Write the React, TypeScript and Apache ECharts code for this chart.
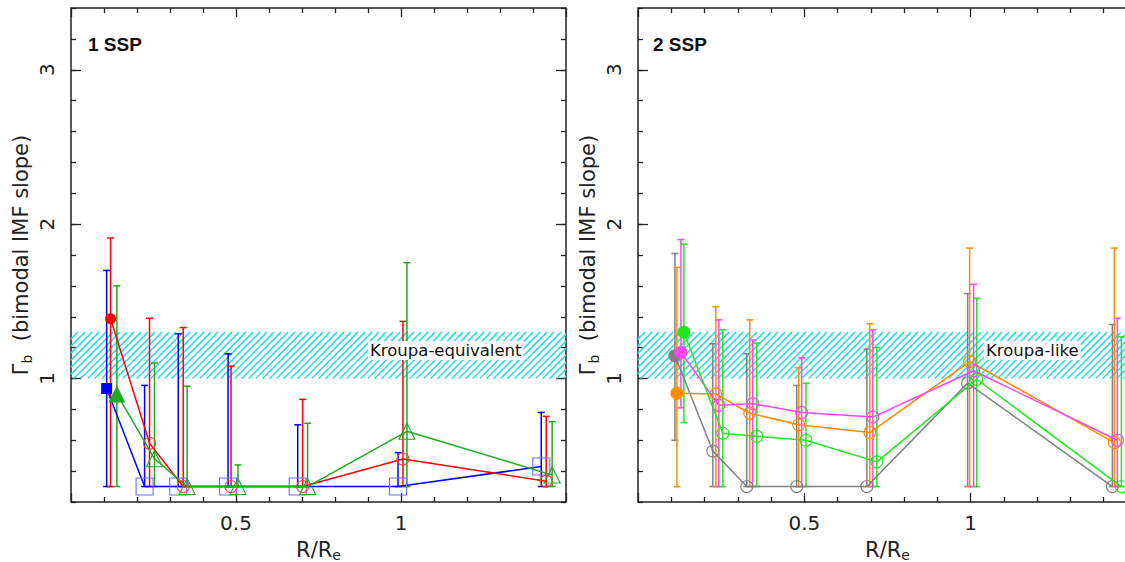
import React, { useEffect, useRef } from 'react';
import * as echarts from 'echarts';

// ---------- data ----------
const xAxisLabels = ['0.5', '1'];
const yAxisLabels = ['1', '2', '3'];
const kroupaBand = [1.0, 1.3];
const panelTitles = ['1 SSP', '2 SSP'];
const bandLabels = ['Kroupa-equivalent', 'Kroupa-like'];

// Left panel: 1 SSP
const blueX = [0.108, 0.223, 0.325, 0.476, 0.687, 0.991, 1.425];
const blueY = [0.935, 0.3, 0.3, 0.3, 0.3, 0.3, 0.43];
const blueHi = [1.70, 0.955, 1.29, 1.16, 0.70, 0.52, 0.78];
const blueLo = [0.3, 0.3, 0.3, 0.3, 0.3, 0.3, 0.3];

const redX = [0.120, 0.238, 0.340, 0.485, 0.702, 1.006, 1.440];
const redY = [1.387, 0.58, 0.3, 0.3, 0.3, 0.478, 0.335];
const redHi = [1.91, 1.39, 1.33, 1.08, 0.865, 1.37, 0.755];
const redLo = [0.3, 0.3, 0.3, 0.3, 0.3, 0.3, 0.3];

const greenX = [0.139, 0.253, 0.352, 0.506, 0.717, 1.018, 1.458];
const greenY = [0.9, 0.48, 0.3, 0.3, 0.3, 0.658, 0.375];
const greenHi = [1.60, 1.10, 0.95, 0.44, 0.71, 1.75, 0.72];
const greenLo = [0.3, 0.3, 0.3, 0.3, 0.3, 0.3, 0.3];

// Right panel: 2 SSP
const grayX = [0.111, 0.225, 0.327, 0.477, 0.688, 0.991, 1.426];
const grayY = [1.148, 0.53, 0.3, 0.3, 0.3, 0.97, 0.3];
const grayHi = [1.81, 1.225, 1.16, 0.955, 1.19, 1.55, 1.35];
const grayLo = [0.6, 0.3, 0.3, 0.3, 0.3, 0.3, 0.3];

const orangeX = [0.117, 0.234, 0.336, 0.483, 0.697, 0.997, 1.432];
const orangeY = [0.905, 0.9, 0.775, 0.70, 0.65, 1.11, 0.585];
const orangeHi = [1.72, 1.465, 1.38, 1.07, 1.355, 1.845, 1.845];
const orangeLo = [0.3, 0.3, 0.3, 0.3, 0.3, 0.3, 0.3];

const magentaX = [0.129, 0.243, 0.345, 0.492, 0.706, 1.009, 1.441];
const magentaY = [1.17, 0.826, 0.837, 0.78, 0.75, 1.05, 0.6];
const magentaHi = [1.90, 1.38, 1.25, 1.135, 1.315, 1.61, 1.39];
const magentaLo = [0.81, 0.3, 0.3, 0.3, 0.3, 0.3, 0.3];

const limeX = [0.138, 0.255, 0.357, 0.505, 0.718, 1.018, 1.453];
const limeY = [1.30, 0.645, 0.626, 0.60, 0.46, 0.995, 0.3];
const limeHi = [1.87, 1.315, 1.23, 0.97, 1.20, 1.52, 1.27];
const limeLo = [0.715, 0.3, 0.3, 0.3, 0.3, 0.3, 0.3];

// ---------- styling ----------
const FONT = 'DejaVu Sans';
const AX = '#222';

function lineSeries(
  g: number,
  xs: number[],
  ys: number[],
  color: string,
  openColor: string,
  symbol: string,
  filledSize: number,
  openSize: number,
  z: number
) {
  return {
    type: 'line',
    xAxisIndex: g * 2,
    yAxisIndex: g * 4,
    showAllSymbol: true,
    z,
    lineStyle: { color, width: 1.5 },
    itemStyle: { color },
    data: xs.map((x, i) =>
      i === 0
        ? { value: [x, ys[i]], symbol, symbolSize: filledSize, itemStyle: { color, borderWidth: 0 } }
        : {
            value: [x, ys[i]],
            symbol,
            symbolSize: openSize,
            itemStyle: { color: 'rgba(0,0,0,0)', borderColor: openColor, borderWidth: 1.1 },
          }
    ),
  };
}

function errSeries(g: number, xs: number[], lo: number[], hi: number[], color: string, z: number) {
  return {
    type: 'custom',
    xAxisIndex: g * 2,
    yAxisIndex: g * 4,
    z,
    silent: true,
    encode: { x: 0, y: [1, 2] },
    data: xs.map((x, i) => [x, lo[i], hi[i]]),
    renderItem: (params: any, api: any) => {
      const x = api.value(0);
      const top = api.coord([x, api.value(2)]);
      const bot = api.coord([x, api.value(1)]);
      const w = 3.5;
      const st = { stroke: color, lineWidth: 1.5, fill: null };
      return {
        type: 'group',
        children: [
          { type: 'line', shape: { x1: top[0], y1: top[1], x2: bot[0], y2: bot[1] }, style: st },
          { type: 'line', shape: { x1: top[0] - w, y1: top[1], x2: top[0] + w, y2: top[1] }, style: st },
          { type: 'line', shape: { x1: bot[0] - w, y1: bot[1], x2: bot[0] + w, y2: bot[1] }, style: st },
        ],
      };
    },
  };
}

function bandSeries(g: number) {
  return {
    type: 'custom',
    xAxisIndex: g * 2,
    yAxisIndex: g * 4,
    z: 1,
    silent: true,
    encode: { x: [0, 2], y: [1, 3] },
    data: [[0, kroupaBand[0], 1.5, kroupaBand[1]]],
    renderItem: (params: any, api: any) => {
      const p0 = api.coord([api.value(0), api.value(3)]);
      const p1 = api.coord([api.value(2), api.value(1)]);
      const x0 = p0[0], y0 = p0[1], x1 = p1[0], y1 = p1[1];
      const step = 7;
      const children: any[] = [];
      for (let c = x0 + y0; c <= x1 + y1; c += step) {
        const xs = Math.max(x0, c - y1);
        const xe = Math.min(x1, c - y0);
        if (xe > xs) {
          children.push({
            type: 'line',
            shape: { x1: xs, y1: c - xs, x2: xe, y2: c - xe },
            style: { stroke: '#2fdcf0', lineWidth: 1.6 },
          });
        }
      }
      return { type: 'group', children };
    },
  };
}

const richY = {
  a: { fontSize: 21, fontFamily: FONT, color: AX, lineHeight: 24, verticalAlign: 'top' },
  s: { fontSize: 14, fontFamily: FONT, color: AX, lineHeight: 14, verticalAlign: 'bottom', padding: [13, 0, 0, 0] },
};
const richX = {
  a: { fontSize: 21, fontFamily: FONT, color: AX, lineHeight: 22, verticalAlign: 'top' },
  s: { fontSize: 14, fontFamily: FONT, color: AX, lineHeight: 14, verticalAlign: 'bottom', padding: [10, 0, 0, 0] },
};

function xAxes(g: number) {
  const base = {
    type: 'value',
    gridIndex: g,
    min: 0,
    max: 1.5,
    interval: 0.5,
    axisLine: { show: false },
    splitLine: { show: false },
    axisTick: { show: true, inside: true, length: 9, lineStyle: { color: AX, width: 1.3 } },
    minorTick: { show: true, splitNumber: 5, length: 5, lineStyle: { color: AX, width: 1.3 } },
  };
  return [
    {
      ...base,
      position: 'bottom',
      axisLabel: {
        show: true,
        margin: 11,
        fontSize: 20,
        fontFamily: FONT,
        color: AX,
        formatter: (v: number) => {
          if (Math.abs(v - 0.5) < 1e-6) return xAxisLabels[0];
          if (Math.abs(v - 1) < 1e-6) return xAxisLabels[1];
          return '';
        },
      },
      name: '{a|R/R}{s|e}',
      nameLocation: 'middle',
      nameGap: 29,
      nameTextStyle: { fontFamily: FONT, color: AX, rich: richX },
    },
    { ...base, position: 'top', axisLabel: { show: false } },
  ];
}

function yAxes(g: number) {
  const base = {
    type: 'value',
    gridIndex: g,
    min: 0.2,
    max: 3.4,
    interval: 0.2,
    axisLine: { show: false },
    splitLine: { show: false },
  };
  const minorTick = { show: true, inside: true, length: 5, lineStyle: { color: AX, width: 1.3 } };
  const majorTick = { show: true, inside: true, length: 10, customValues: [1, 2, 3], lineStyle: { color: AX, width: 1.3 } };
  return [
    {
      ...base,
      position: 'left',
      axisTick: minorTick,
      axisLabel: {
        show: true,
        rotate: 90,
        margin: 14,
        fontSize: 20,
        fontFamily: FONT,
        color: AX,
        formatter: (v: number) => {
          for (let k = 0; k < 3; k++) if (Math.abs(v - (k + 1)) < 1e-6) return yAxisLabels[k];
          return '';
        },
      },
      name: '{a|Γ}{s|b}{a|  (bimodal IMF slope)}',
      nameLocation: 'middle',
      nameGap: 37,
      nameRotate: 90,
      nameTextStyle: { fontFamily: FONT, color: AX, rich: richY },
    },
    { ...base, position: 'left', axisTick: majorTick, axisLabel: { show: false } },
    { ...base, position: 'right', axisTick: minorTick, axisLabel: { show: false } },
    { ...base, position: 'right', axisTick: majorTick, axisLabel: { show: false } },
  ];
}

export default function App() {
  const ref = useRef<HTMLDivElement>(null);
  useEffect(() => {
    if (!ref.current) return;
    const chart = echarts.init(ref.current, null, { renderer: 'svg' });
    const gridStyle = {
      show: true,
      borderColor: AX,
      borderWidth: 1.5,
      backgroundColor: 'rgba(0,0,0,0)',
      containLabel: false,
      outerBoundsMode: 'none',
    };
    chart.setOption({
      animation: false,
      backgroundColor: '#fff',
      grid: [
        { left: 71, top: 8, width: 495, height: 494, ...gridStyle },
        { left: 638, top: 8, width: 499, height: 494, ...gridStyle },
      ],
      xAxis: [...xAxes(0), ...xAxes(1)],
      yAxis: [...yAxes(0), ...yAxes(1)],
      graphic: [
        { type: 'text', left: 88, top: 35, style: { text: panelTitles[0], fontSize: 19, fontWeight: 'bold', fontFamily: 'Liberation Sans', fill: '#111' } },
        { type: 'text', left: 653, top: 35, style: { text: panelTitles[1], fontSize: 19, fontWeight: 'bold', fontFamily: 'Liberation Sans', fill: '#111' } },
        {
          type: 'text', left: 368, top: 341, z: 50,
          style: { text: bandLabels[0], fontSize: 16.5, fontFamily: FONT, fill: '#111', backgroundColor: '#fff', padding: [1, 2, 1, 2] },
        },
        {
          type: 'text', left: 984, top: 341, z: 50,
          style: { text: bandLabels[1], fontSize: 16.5, fontFamily: FONT, fill: '#111', backgroundColor: '#fff', padding: [1, 2, 1, 2] },
        },
      ],
      series: [
        bandSeries(0),
        bandSeries(1),
        errSeries(0, blueX, blueLo, blueHi, '#0000ff', 3),
        errSeries(0, redX, redLo, redHi, '#ff0000', 3),
        errSeries(0, greenX, greenLo, greenHi, '#22a822', 3),
        lineSeries(0, blueX, blueY, '#0000ff', '#6b6bff', 'rect', 11, 17, 4),
        lineSeries(0, redX, redY, '#ff0000', '#ff4040', 'circle', 11, 12, 5),
        lineSeries(0, greenX, greenY, '#22a822', '#22a822', 'triangle', 17, 16, 6),
        errSeries(1, grayX, grayLo, grayHi, '#808080', 3),
        errSeries(1, orangeX, orangeLo, orangeHi, '#ff8c00', 3),
        errSeries(1, magentaX, magentaLo, magentaHi, '#ff44ff', 3),
        errSeries(1, limeX, limeLo, limeHi, '#1ee81e', 3),
        lineSeries(1, grayX, grayY, '#808080', '#808080', 'circle', 13, 12, 4),
        lineSeries(1, orangeX, orangeY, '#ff8c00', '#ff8c00', 'circle', 13, 12, 5),
        lineSeries(1, magentaX, magentaY, '#ff44ff', '#ff44ff', 'circle', 13, 12, 6),
        lineSeries(1, limeX, limeY, '#1ee81e', '#1ee81e', 'circle', 13, 12, 7),
      ],
    });
    return () => chart.dispose();
  }, []);
  return (
    <div
      ref={ref}
      style={{ position: 'absolute', left: 0, top: 0, width: 1125, height: 562, background: '#fff' }}
    />
  );
}
